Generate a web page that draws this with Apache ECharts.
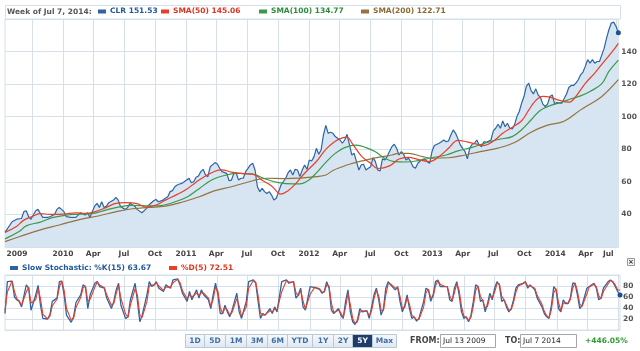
<!DOCTYPE html>
<html>
<head>
<meta charset="utf-8">
<script src="https://cdn.jsdelivr.net/npm/echarts@6/dist/echarts.min.js"></script>
<style>
  html, body { margin: 0; padding: 0; background: #fff; }
  #chart { width: 640px; height: 351px; }
</style>
</head>
<body>
<div id="chart"></div>
<script>
// weekly chart, week 0 = Jul 13 2009, week 260 = Jul 7 2014
const startDate = Date.UTC(2009, 6, 13)
const endDate = Date.UTC(2014, 6, 7)
const WEEK = 7 * 24 * 3600 * 1000

// x axis: quarter gridlines and the labels under them
const quarterDates = ['2009-10-01', '2010-01-01', '2010-04-01', '2010-07-01', '2010-10-01',
  '2011-01-01', '2011-04-01', '2011-07-01', '2011-10-01', '2012-01-01', '2012-04-01',
  '2012-07-01', '2012-10-01', '2013-01-01', '2013-04-01', '2013-07-01', '2013-10-01',
  '2014-01-01', '2014-04-01', '2014-07-01']
const labelDates = ['2009-07-13', '2010-01-01', '2010-04-01', '2010-07-01', '2010-10-01',
  '2011-01-01', '2011-04-01', '2011-07-01', '2011-10-01', '2012-01-01', '2012-04-01',
  '2012-07-01', '2012-10-01', '2013-01-01', '2013-04-01', '2013-07-01', '2013-10-01',
  '2014-01-01', '2014-04-01', '2014-07-01']
const labelTexts = ['2009', '2010', 'Apr', 'Jul', 'Oct', '2011', 'Apr', 'Jul', 'Oct', '2012',
  'Apr', 'Jul', 'Oct', '2013', 'Apr', 'Jul', 'Oct', '2014', 'Apr', 'Jul']

// CLR weekly close
const clrWeek = [0, 3, 5, 7, 8, 9, 10, 11, 12, 13, 14, 15, 16, 18, 19, 21, 22, 23, 24, 25, 26, 28, 30,
  31, 32, 34, 35, 36, 37, 38, 39, 40, 41, 42, 43, 44, 46, 47, 48, 49, 51, 52, 53, 54, 55, 56, 58,
  59, 60, 61, 63, 64, 65, 67, 68, 69, 70, 71, 72, 73, 74, 75, 76, 77, 78, 79, 80, 81, 82, 83, 84,
  85, 86, 87, 89, 90, 91, 92, 94, 95, 96, 97, 98, 99, 100, 101, 102, 103, 104, 105, 106, 107, 108,
  109, 110, 111, 112, 113, 114, 115, 116, 117, 119, 120, 121, 122, 123, 124, 125, 126, 127, 128,
  129, 130, 131, 132, 133, 134, 135, 136, 137, 138, 139, 140, 141, 142, 143, 144, 145, 146, 147,
  148, 149, 150, 151, 152, 153, 154, 155, 156, 157, 158, 159, 160, 161, 162, 163, 164, 165, 166,
  167, 168, 169, 170, 171, 172, 173, 174, 175, 176, 177, 178, 179, 180, 181, 182, 184, 185, 186,
  187, 188, 189, 190, 191, 192, 193, 194, 195, 196, 197, 198, 199, 200, 201, 202, 203, 204, 206,
  207, 208, 209, 210, 211, 212, 213, 214, 215, 216, 217, 218, 219, 220, 221, 222, 223, 224, 225,
  226, 227, 228, 229, 230, 231, 232, 233, 234, 235, 236, 237, 238, 239, 240, 241, 242, 243, 244,
  245, 246, 247, 248, 249, 250, 251, 252, 253, 254, 255, 256, 257, 258, 259, 260]
const clrClose = [29, 35.5, 37.1, 37.5, 41.7, 42.3, 38.6, 37, 39.6, 42.3, 43.1, 40.6, 38.2, 38.2, 38.6,
  40, 43.1, 44.3, 43.1, 41.7, 38.6, 38.2, 38.2, 39.6, 41, 39.6, 41, 38.2, 41.7, 45.1, 46.8, 44.3,
  47.8, 44.3, 45.1, 47.2, 48.8, 50.5, 48.8, 44.7, 43.1, 44.3, 46.8, 45.8, 45.1, 43.1, 41, 42.3,
  43.7, 45.8, 48.4, 49.2, 47.8, 48.8, 49.9, 50.9, 54, 54.6, 57, 58.1, 58.7, 59.1, 60.1, 61.1, 62.2,
  59.5, 60.1, 62.8, 63.6, 66.3, 67.7, 64.2, 63.2, 69.3, 71.8, 71, 68.3, 66.3, 65.2, 60.7, 61.1,
  65.2, 65.6, 61.1, 62.2, 62.2, 66.3, 68.3, 70.4, 71.4, 67.3, 57, 54, 56, 54, 52.9, 54, 51.9, 48.8,
  49.9, 54, 58.1, 62.2, 65.6, 67.3, 64.2, 67.7, 67.3, 63.2, 67.3, 70.4, 67.7, 73.4, 72.8, 75.5,
  80.6, 77, 79.6, 88.8, 94.6, 89.8, 90.5, 89.8, 87.8, 86.8, 85.7, 83.7, 85.7, 89.2, 83, 76.5, 77.5,
  72.4, 67.3, 70.4, 70.8, 67.3, 68.3, 69.3, 74.9, 72.4, 67.3, 66.7, 74.1, 73.5, 75.5, 78.6, 81.6,
  83.1, 80.6, 76.5, 78.6, 76.9, 73.4, 74.5, 72.4, 69.3, 68.3, 71.4, 72.8, 73.8, 74.1, 72.4, 71.4,
  78.6, 82.3, 83.7, 84.7, 85.7, 84.7, 85.1, 88.8, 91.9, 89.8, 86.4, 82.7, 80.6, 78.6, 74.1, 80.6,
  83.1, 83.7, 85.7, 82.7, 81.6, 84.7, 84.3, 85.7, 91.3, 92.9, 95.4, 92.9, 97.4, 93.9, 96, 92.9,
  92.5, 95, 100.1, 103.2, 108.3, 112.4, 118.6, 120.6, 116, 114, 117.1, 113.4, 111.8, 107.7, 106.3,
  107.7, 112.4, 113.4, 107.7, 108.9, 108.3, 108.3, 111, 113.8, 117.9, 119.2, 119.2, 120.6, 122.7,
  125.7, 127.4, 130.9, 135, 132.9, 135, 132.9, 133.9, 133.9, 138, 142.1, 148.3, 153.4, 157.5,
  158.1, 155.5, 151.53]

// moving averages
const sma50Week = [0, 5, 8, 12, 15, 19, 25, 30, 34, 38, 43, 47, 51, 56, 60, 64, 68, 73, 77, 81, 85, 89,
  92, 96, 101, 105, 109, 113, 116, 117, 120, 123, 127, 132, 136, 140, 143, 145, 147, 151, 155, 158,
  163, 167, 171, 175, 180, 184, 188, 192, 196, 199, 203, 207, 211, 215, 219, 222, 225, 228, 231,
  234, 239, 242, 246, 250, 254, 258, 260]
const sma50 = [29, 32.8, 36.5, 39, 40.5, 40, 40.2, 41, 40.6, 41.6, 44.3, 46.8, 47.2, 46.6, 44.5, 45.8,
  48.8, 52.3, 55.5, 59.8, 63.6, 66.5, 67.3, 66, 65, 64.8, 61, 57.5, 53, 52.5, 54.6, 58.5, 65.3,
  72.5, 80, 85, 87, 87.5, 84, 76, 71.4, 68.2, 69.8, 74, 75, 73.8, 72.5, 75.5, 80.6, 85.5, 84.5,
  83.5, 82.3, 85, 89.8, 93.5, 97.5, 104, 110, 112.5, 112, 110.5, 108.9, 112.5, 120.5, 126.8, 134,
  141, 145.06]
const sma100Week = [0, 6, 9, 15, 20, 26, 32, 37, 43, 49, 54, 60, 65, 71, 77, 82, 88, 94, 99, 105, 110,
  116, 122, 125, 129, 132, 136, 140, 144, 149, 153, 157, 161, 165, 170, 175, 181, 187, 192, 198,
  203, 209, 215, 219, 223, 227, 232, 236, 240, 244, 248, 253, 256, 260]
const sma100 = [25, 29.5, 33, 35.3, 38, 39.6, 40.2, 40.5, 42.8, 44.8, 45.5, 45.3, 45.3, 47.2, 50.5,
  55.5, 61.5, 64.3, 65.2, 64.8, 62, 59.5, 58.7, 58.8, 61.3, 65.5, 72, 77.5, 81, 82.5, 81, 78.5,
  74.5, 72.4, 72.2, 73, 74.8, 76.5, 79, 81.2, 83.5, 86, 87.8, 92, 98, 104, 107.3, 108.9, 111, 112.8,
  115.5, 120.3, 127.8, 134.77]
const sma200Week = [0, 6, 15, 23, 32, 40, 47, 54, 61, 68, 75, 82, 89, 96, 105, 111, 118, 125, 132, 136,
  139, 143, 146, 150, 157, 164, 167, 171, 177, 181, 188, 195, 202, 209, 216, 223, 230, 237, 244,
  247, 253, 260]
const sma200 = [23.3, 26.3, 30.5, 33.5, 37, 39.2, 41.6, 43.5, 44.3, 45.1, 47.5, 50.7, 54.6, 57, 60.7,
  62.2, 62, 62.3, 63.2, 64.2, 67, 69.3, 70.8, 72.4, 74.7, 76.5, 77.5, 77.5, 75.5, 74.5, 74.8, 76.5,
  78.7, 80.7, 84.2, 90.5, 94.8, 97.2, 104.2, 106.9, 112.4, 122.71]

// slow stochastic %K(15) and %D(5)
const stochWeek = [0, 1, 3, 4, 5, 6, 7, 9, 10, 11, 13, 14, 15, 16, 18, 19, 20, 22, 23, 24, 25, 26, 28,
  29, 30, 32, 33, 34, 35, 36, 38, 39, 40, 42, 43, 45, 46, 47, 48, 49, 51, 52, 53, 55, 56, 57, 58,
  60, 61, 62, 63, 64, 65, 67, 68, 70, 71, 73, 74, 75, 77, 78, 79, 81, 82, 83, 84, 86, 87, 88, 89,
  90, 91, 92, 93, 94, 95, 96, 98, 99, 100, 102, 103, 105, 106, 107, 108, 109, 110, 112, 113, 114,
  115, 117, 119, 120, 122, 123, 124, 125, 126, 127, 129, 131, 133, 134, 135, 136, 137, 138, 139,
  141, 142, 143, 144, 145, 146, 147, 148, 149, 150, 151, 153, 154, 155, 156, 157, 158, 159, 160,
  161, 162, 163, 165, 166, 167, 168, 169, 170, 171, 172, 173, 174, 175, 177, 178, 179, 180, 181,
  182, 183, 184, 186, 187, 188, 189, 190, 191, 192, 193, 194, 195, 196, 197, 198, 199, 200, 201,
  202, 203, 204, 205, 206, 207, 208, 209, 210, 211, 212, 213, 214, 215, 216, 217, 219, 220, 221,
  222, 224, 225, 227, 228, 229, 230, 231, 232, 233, 234, 235, 236, 237, 238, 239, 240, 241, 242,
  243, 244, 246, 247, 249, 250, 251, 252, 253, 255, 256, 257, 258, 259, 260]
const stochK = [30, 88, 89, 60, 55, 52, 42, 82, 76, 36, 64, 81, 45, 21, 20, 28, 52, 58, 88, 89, 64, 27,
  14, 24, 50, 64, 82, 79, 39, 64, 85, 88, 79, 76, 58, 39, 52, 73, 85, 45, 21, 24, 55, 85, 52, 15,
  27, 64, 88, 79, 82, 88, 76, 70, 82, 76, 91, 93, 82, 67, 52, 70, 55, 73, 58, 73, 64, 55, 39, 64,
  85, 64, 30, 30, 45, 33, 24, 36, 67, 33, 21, 52, 88, 91, 85, 52, 21, 30, 27, 39, 30, 42, 33, 88,
  91, 85, 88, 58, 64, 76, 42, 36, 79, 77, 74, 67, 70, 88, 76, 36, 30, 39, 27, 21, 52, 73, 33, 15,
  10, 18, 39, 33, 35, 21, 42, 64, 76, 55, 27, 39, 76, 88, 82, 73, 79, 52, 33, 45, 64, 39, 21, 24,
  16, 21, 52, 76, 73, 52, 64, 88, 91, 79, 79, 79, 55, 52, 76, 88, 64, 33, 21, 24, 15, 27, 52, 82,
  79, 52, 55, 33, 48, 67, 55, 76, 88, 82, 52, 55, 42, 33, 39, 55, 76, 82, 85, 88, 76, 82, 73, 58,
  42, 30, 24, 21, 45, 79, 73, 39, 33, 55, 48, 48, 58, 85, 85, 64, 39, 45, 76, 79, 85, 76, 55, 58,
  76, 88, 91, 87, 79, 70, 63.67]
const stochD = [35, 69, 89, 70, 57, 53, 45, 69, 78, 49, 55, 75, 57, 29, 20, 25, 44, 56, 78, 89, 72, 39,
  18, 21, 41, 59, 76, 80, 52, 56, 78, 87, 82, 77, 64, 45, 48, 66, 81, 58, 29, 23, 45, 75, 63, 27,
  23, 52, 80, 82, 81, 86, 80, 72, 78, 78, 86, 92, 86, 72, 57, 64, 60, 67, 63, 68, 67, 58, 44, 56,
  78, 71, 41, 30, 40, 37, 27, 32, 57, 44, 25, 42, 76, 90, 87, 63, 31, 27, 28, 35, 33, 38, 36, 70,
  90, 87, 87, 68, 62, 72, 53, 38, 65, 78, 75, 69, 69, 82, 80, 49, 32, 36, 31, 23, 42, 66, 46, 21,
  12, 15, 32, 35, 34, 26, 35, 57, 72, 62, 36, 35, 64, 84, 84, 76, 77, 61, 39, 41, 58, 47, 27, 23,
  19, 19, 42, 68, 74, 59, 60, 80, 90, 83, 79, 79, 63, 53, 68, 84, 72, 43, 25, 23, 18, 23, 44, 72,
  80, 61, 54, 40, 43, 61, 59, 69, 84, 84, 62, 54, 46, 36, 37, 50, 69, 80, 84, 87, 80, 80, 76, 63,
  47, 34, 26, 22, 37, 68, 75, 50, 35, 48, 50, 48, 55, 76, 85, 71, 47, 43, 66, 78, 83, 79, 62, 57,
  70, 84, 90, 88, 82, 73, 72.51]

const gridColor = '#d6e0ea'
const labelFont = 'DejaVu Sans'

const quarterTimes = quarterDates.map((d) => Date.parse(d))
const labelTimes = labelDates.map((d) => Date.parse(d))

function toSeries(weeks, values) {
  return weeks.map((w, i) => [startDate + w * WEEK, values[i]])
}
// only the last point gets a dot
function withEndDot(data, color) {
  const last = data.length - 1
  data[last] = { value: data[last], symbol: 'circle', symbolSize: 5, itemStyle: { color: color } }
  return data
}
function lastOf(arr) {
  return arr[arr.length - 1].toFixed(2)
}

function xLabel(value) {
  let i = labelTimes.findIndex((t) => Math.abs(t - value) < 86400000)
  if (i < 0) return ''
  if (i === 0) return '{first|' + labelTexts[i] + '}'
  if (i === labelTexts.length - 1) return '{last|' + labelTexts[i] + '}'
  return labelTexts[i]
}

const axisText = { fontFamily: labelFont, fontWeight: 'bold', fontSize: 7.5, color: '#444' }

function legendAt(left, top, name, color) {
  return {
    left: left,
    top: top,
    padding: 0,
    icon: 'rect',
    itemWidth: 8,
    itemHeight: 4,
    selectedMode: false,
    data: [name],
    textStyle: { fontFamily: labelFont, fontWeight: 'bold', fontSize: 7.5, color: color, padding: [0, 0, 0, -1] },
  }
}

const names = {
  clr: 'CLR',
  s50: 'SMA(50)',
  s100: 'SMA(100)',
  s200: 'SMA(200)',
  k: 'Slow Stochastic: %K(15)',
  d: '%D(5)',
}
const lastValues = {
  CLR: lastOf(clrClose),
  'SMA(50)': lastOf(sma50),
  'SMA(100)': lastOf(sma100),
  'SMA(200)': lastOf(sma200),
  'Slow Stochastic: %K(15)': lastOf(stochK),
  '%D(5)': lastOf(stochD),
}

const colors = {
  blue: '#2e64a3',
  red: '#e4402a',
  green: '#3a9a4a',
  brown: '#94733f',
}

// range buttons under the chart
const rangeButtons = ['1D', '5D', '1M', '3M', '6M', 'YTD', '1Y', '2Y', '5Y', 'Max']
const buttonEdges = [185, 204, 225, 246, 267, 287, 312, 333, 352, 372, 396]

let graphics = []
rangeButtons.forEach((b, i) => {
  const x0 = buttonEdges[i]
  const w = buttonEdges[i + 1] - x0
  const active = b === '5Y'
  graphics.push({
    type: 'rect',
    shape: { x: x0 + 0.5, y: 334.5, width: w, height: 13 },
    style: {
      fill: active ? '#1f3c6a' : new echarts.graphic.LinearGradient(0, 0, 0, 1, [
        { offset: 0, color: '#f7f9fc' },
        { offset: 1, color: '#dfe7f0' },
      ]),
      stroke: '#b9c8d6',
    },
  })
  graphics.push({
    type: 'text',
    x: x0 + w / 2 + 0.5,
    y: 341,
    style: {
      text: b,
      font: 'bold 7.5px DejaVu Sans',
      fill: active ? '#ffffff' : '#3c6ea8',
      align: 'center',
      verticalAlign: 'middle',
      textAlign: 'center',
      textVerticalAlign: 'middle',
    },
  })
})

function boxText(x, y, text, font, fill, align) {
  return {
    type: 'text',
    x: x,
    y: y,
    style: { text: text, font: font, fill: fill, align: align || 'left', verticalAlign: 'middle',
      textAlign: align || 'left', textVerticalAlign: 'middle' },
  }
}

graphics.push(
  // legend boxes
  { type: 'rect', shape: { x: 5.5, y: 5.5, width: 615, height: 13.5 }, style: { fill: '#fff', stroke: gridColor } },
  boxText(7, 12, 'Week of Jul 7, 2014:', 'bold 7.5px DejaVu Sans', '#555'),
  boxText(9, 240, '\u00a9 2014 Yahoo! Inc.', '7.5px DejaVu Sans', '#b9c9d8'),
  // close box of the lower panel
  { type: 'rect', shape: { x: 627.5, y: 258.5, width: 7, height: 7 }, style: { fill: '#f4f4f4', stroke: '#999' } },
  boxText(631, 262, '\u00d7', 'bold 7px DejaVu Sans', '#333', 'center'),
  // date range
  boxText(410, 341, 'FROM:', 'bold 8px DejaVu Sans', '#444'),
  { type: 'rect', shape: { x: 440.5, y: 334.5, width: 55, height: 13 }, style: { fill: '#fff', stroke: '#a5a5a5' } },
  boxText(443, 341, 'Jul 13 2009', '7.5px DejaVu Sans', '#222'),
  boxText(505, 341, 'TO:', 'bold 8px DejaVu Sans', '#444'),
  { type: 'rect', shape: { x: 520.5, y: 334.5, width: 56, height: 13 }, style: { fill: '#fff', stroke: '#a5a5a5' } },
  boxText(523, 341, 'Jul 7 2014', '7.5px DejaVu Sans', '#222'),
  boxText(585, 341, '+446.05%', 'bold 7.5px DejaVu Sans', '#2e9a2e')
)

const chart = echarts.init(document.getElementById('chart'))

const option = {
  animation: false,
  backgroundColor: '#fff',
  legend: [
    legendAt(98, 7.5, names.clr, '#21589a'),
    legendAt(161, 7.5, names.s50, '#e2321f'),
    legendAt(259, 7.5, names.s100, '#2a8c3a'),
    legendAt(361, 7.5, names.s200, '#8a6a30'),
    legendAt(10, 264, names.k, '#21589a'),
    legendAt(169, 264, names.d, '#e2321f'),
  ].map((l) => Object.assign(l, { formatter: (name) => name + ' ' + lastValues[name] })),
  grid: [
    { left: 5, right: 20, top: 19, height: 228, show: true, borderColor: gridColor, borderWidth: 1 },
    { left: 5, right: 20, top: 275, height: 55, show: true, borderColor: gridColor, borderWidth: 1 },
  ],
  xAxis: [
    {
      type: 'value',
      gridIndex: 0,
      min: startDate,
      max: endDate,
      axisLine: { show: true, lineStyle: { color: gridColor } },
      axisTick: { show: false, customValues: quarterTimes },
      splitLine: { show: true, lineStyle: { color: gridColor, width: 1 } },
      axisLabel: Object.assign({}, axisText, {
        customValues: labelTimes,
        margin: 3,
        formatter: xLabel,
        rich: {
          first: Object.assign({}, axisText, { padding: [0, 0, 0, 24] }),
          last: Object.assign({}, axisText, { padding: [0, 16, 0, 0] }),
        },
      }),
    },
    {
      type: 'value',
      gridIndex: 1,
      min: startDate,
      max: endDate,
      axisLine: { show: true, lineStyle: { color: gridColor } },
      axisTick: { show: false, customValues: quarterTimes },
      splitLine: { show: true, lineStyle: { color: gridColor, width: 1 } },
      axisLabel: { show: false },
    },
  ],
  yAxis: [
    {
      type: 'value',
      gridIndex: 0,
      position: 'right',
      min: 20,
      max: 160,
      interval: 20,
      axisLine: { show: false },
      axisTick: { show: false },
      splitLine: { lineStyle: { color: gridColor, width: 1 } },
      axisLabel: Object.assign({}, axisText, { color: '#555', margin: 3, showMinLabel: false, showMaxLabel: false }),
    },
    {
      type: 'value',
      gridIndex: 1,
      position: 'right',
      min: 0,
      max: 100,
      interval: 20,
      axisLine: { show: false },
      axisTick: { show: false },
      splitLine: { lineStyle: { color: gridColor, width: 1 } },
      axisLabel: Object.assign({}, axisText, { color: '#555', margin: 3, showMinLabel: false, showMaxLabel: false }),
    },
  ],
  series: [
    {
      name: names.clr,
      type: 'line',
      xAxisIndex: 0,
      yAxisIndex: 0,
      symbol: 'none',
      color: colors.blue,
      lineStyle: { color: colors.blue, width: 1.2 },
      areaStyle: { color: '#d6e5f1', opacity: 1 },
      data: withEndDot(toSeries(clrWeek, clrClose), '#1f4f8f'),
    },
    {
      name: names.s200,
      type: 'line',
      xAxisIndex: 0,
      yAxisIndex: 0,
      symbol: 'none',
      smooth: 0.4,
      color: colors.brown,
      lineStyle: { color: colors.brown, width: 1.2 },
      data: toSeries(sma200Week, sma200),
    },
    {
      name: names.s100,
      type: 'line',
      xAxisIndex: 0,
      yAxisIndex: 0,
      symbol: 'none',
      smooth: 0.4,
      color: colors.green,
      lineStyle: { color: colors.green, width: 1.2 },
      data: toSeries(sma100Week, sma100),
    },
    {
      name: names.s50,
      type: 'line',
      xAxisIndex: 0,
      yAxisIndex: 0,
      symbol: 'none',
      smooth: 0.4,
      color: colors.red,
      lineStyle: { color: colors.red, width: 1.2 },
      data: toSeries(sma50Week, sma50),
    },
    {
      name: names.k,
      type: 'line',
      xAxisIndex: 1,
      yAxisIndex: 1,
      symbol: 'none',
      color: colors.blue,
      lineStyle: { color: colors.blue, width: 1.3 },
      data: withEndDot(toSeries(stochWeek, stochK), '#1f4f8f'),
    },
    {
      name: names.d,
      type: 'line',
      xAxisIndex: 1,
      yAxisIndex: 1,
      symbol: 'none',
      color: colors.red,
      lineStyle: { color: colors.red, width: 1.1 },
      data: toSeries(stochWeek, stochD),
    },
  ],
  graphic: graphics,
}

chart.setOption(option)
</script>
</body>
</html>
